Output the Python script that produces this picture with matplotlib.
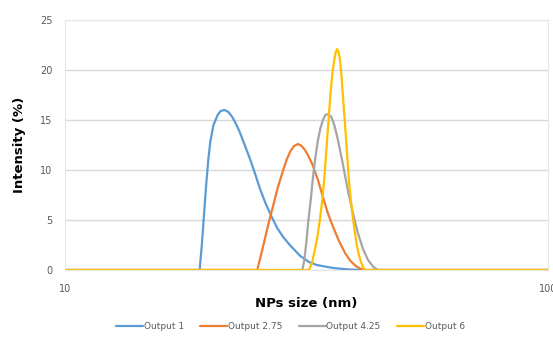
import matplotlib
matplotlib.use("Agg")
import matplotlib.pyplot as plt

# size (nm) / intensity (%)
size_1 = [10, 19.0, 19.2, 19.4, 19.6, 19.8, 20.0, 20.3, 20.7, 21.0, 21.4, 21.8,
          22.2, 22.6, 23.0, 23.6, 24.2, 24.8, 25.3, 26.0, 26.8, 27.5, 28.3,
          29.2, 30.7, 32.0, 33.2, 35.9, 38.9, 41.8, 100]
int_1 = [0, 0, 2.5, 5.5, 8.5, 11.0, 12.9, 14.5, 15.5, 15.9, 16.0, 15.8,
         15.3, 14.6, 13.8, 12.4, 11.0, 9.5, 8.2, 6.7, 5.3, 4.2, 3.3,
         2.5, 1.4, 0.8, 0.5, 0.2, 0.05, 0, 0]

size_275 = [10, 25.0, 25.4, 25.9, 26.4, 27.0, 27.6, 28.3, 28.8, 29.3, 29.8, 30.4,
            30.9, 31.4, 31.9, 32.5, 33.4, 34.2, 35.0, 35.9, 37.0, 38.0, 39.0,
            40.0, 41.0, 41.8, 100]
int_275 = [0, 0, 1.3, 3.0, 4.7, 6.5, 8.3, 10.0, 11.1, 11.9, 12.4, 12.6,
           12.4, 12.0, 11.4, 10.6, 9.0, 7.3, 5.7, 4.3, 2.8, 1.7, 0.9,
           0.4, 0.1, 0, 0]

size_425 = [10, 31.0, 31.3, 31.6, 31.9, 32.3, 32.6, 33.0, 33.4, 33.8, 34.2,
            34.6, 35.1, 35.6, 36.1, 36.7, 37.6, 38.5, 39.5, 40.4, 41.4,
            42.4, 43.5, 44.5, 100]
int_425 = [0, 0, 1.0, 2.8, 4.9, 7.2, 9.2, 11.3, 13.0, 14.2, 15.0,
           15.5, 15.6, 15.3, 14.5, 13.1, 10.6, 8.0, 5.6, 3.7, 2.1,
           1.0, 0.3, 0, 0]

size_6 = [10, 32.0, 32.5, 32.9, 33.3, 33.7, 34.1, 34.4, 34.7, 35.0, 35.3, 35.5,
          35.8, 36.1, 36.35, 36.6, 36.85, 37.1, 37.35, 37.6, 37.9, 38.2, 38.5,
          38.7, 39.1, 39.5, 39.9, 40.2, 40.6, 41.0, 41.4, 41.8, 100]
int_6 = [0, 0, 0.8, 2.0, 3.3, 5.0, 7.0, 9.0, 11.5, 14.0, 16.4, 18.0,
         19.8, 21.0, 21.8, 22.1, 21.8, 21.0, 19.5, 17.5, 15.3, 13.0, 10.6,
         9.0, 6.8, 5.0, 3.5, 2.5, 1.5, 0.8, 0.3, 0, 0]

labels = ["Output 1", "Output 2.75", "Output 4.25", "Output 6"]
colors = ["#5B9BD5", "#ED7D31", "#A5A5A5", "#FFC000"]
y_ticks = [0, 5, 10, 15, 20, 25]
x_ticks = [10, 100]

fig = plt.figure(figsize=(5.53, 3.42), dpi=100)
ax = fig.add_axes([0.1175, 0.2105, 0.8735, 0.731])

series = [(size_1, int_1), (size_275, int_275), (size_425, int_425), (size_6, int_6)]
for (s, v), lab, c in zip(series, labels, colors):
    ax.plot(s, v, color=c, lw=1.6, label=lab, solid_capstyle="round",
            solid_joinstyle="round")

ax.set_xscale("log")
ax.set_xlim(10, 100)
ax.set_ylim(0, 25)
ax.set_xticks(x_ticks)
ax.set_xticklabels([str(t) for t in x_ticks])
ax.xaxis.set_minor_locator(matplotlib.ticker.NullLocator())
ax.set_yticks(y_ticks)
ax.grid(axis="y", color="#d9d9d9", lw=1)
ax.set_axisbelow(True)
for sp in ax.spines.values():
    sp.set_color("#e6e6e6")
    sp.set_linewidth(0.8)
ax.tick_params(length=0, labelsize=7, labelcolor="#595959")
ax.tick_params(axis="y", pad=9)
ax.tick_params(axis="x", pad=10)

ax.set_xlabel("NPs size (nm)", fontsize=9.5, fontweight="bold", labelpad=2)
ax.set_ylabel("Intensity (%)", fontsize=9.5, fontweight="bold", labelpad=10)

fig.legend(loc="center", bbox_to_anchor=(0.525, 0.044), ncol=4, frameon=False,
           fontsize=6.5, handlelength=3.0, columnspacing=1.8, handletextpad=0.1,
           labelcolor="#595959")

fig.savefig("out.png", dpi=100)
